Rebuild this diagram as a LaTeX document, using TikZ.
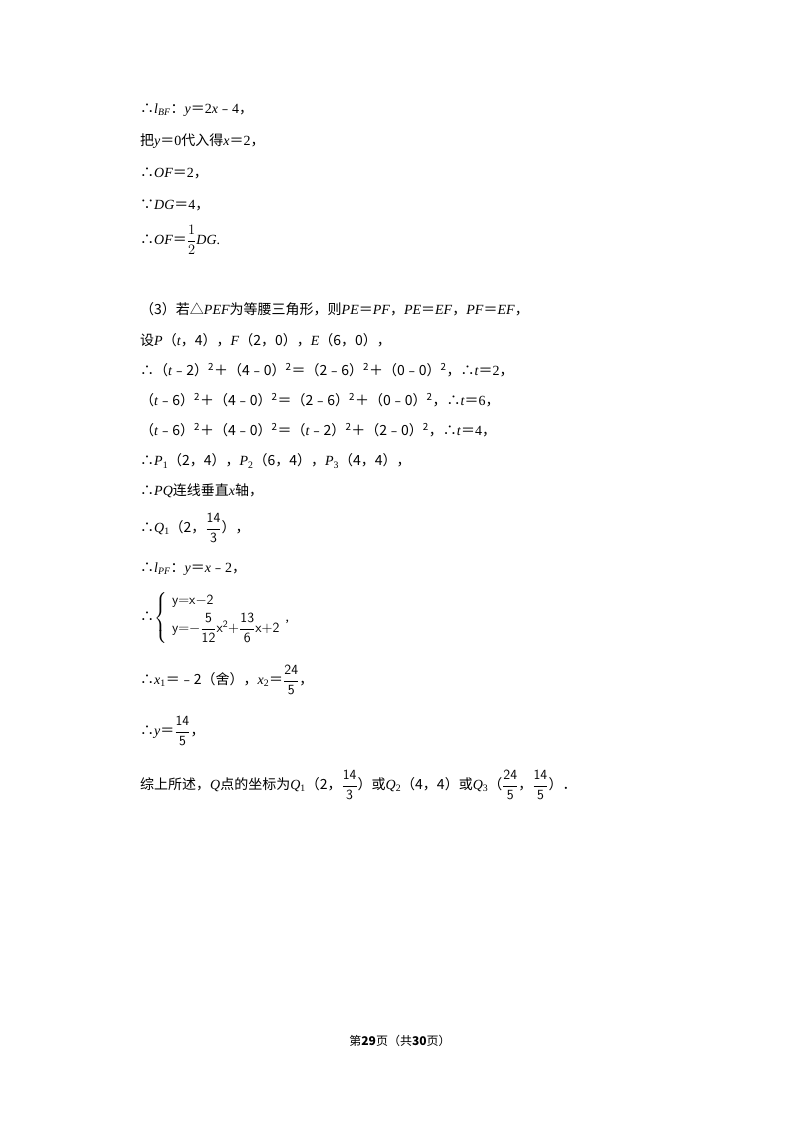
\documentclass[tikz,border=0pt]{standalone}
\usepackage{amsmath}
\usepackage{fontspec}
\setmainfont{Liberation Serif}
\newfontfamily\cjk{Noto Sans CJK SC}
\newcommand\C[1]{{\cjk #1}}
\newcommand\I[1]{\textit{#1}}
\begin{document}
\begin{tikzpicture}[x=1pt,y=-1pt,ln/.style={anchor=west,inner sep=0pt,font=\fontsize{14}{16}\selectfont}]
\useasboundingbox (0,0) rectangle (800,1132);
\node[ln] (l1) at (140,110) {\C{∴}\I{l}\textsubscript{\I{BF}}\C{：}\I{y}\C{＝}2\I{x}\C{﹣}4\C{，}};
\node[ln] (l2) at (140,141) {\C{把}\I{y}\C{＝}0\C{代入得}\I{x}\C{＝}2\C{，}};
\node[ln] (l3) at (140,173) {\C{∴}\I{OF}\C{＝}2\C{，}};
\node[ln] (l4) at (140,205) {\C{∵}\I{DG}\C{＝}4\C{，}};
\node[ln] (l5) at (140,240) {\C{∴}\I{OF}\C{＝}$\dfrac{1}{2}$\I{DG}.};
\node[ln] (l6) at (140,309) {\C{（3）若△}\I{PEF}\C{为等腰三角形，则}\I{PE}\C{＝}\I{PF}\C{，}\I{PE}\C{＝}\I{EF}\C{，}\I{PF}\C{＝}\I{EF}\C{，}};
\node[ln] (l7) at (140,340) {\C{设}\I{P}\C{（}\I{t}\C{，4），}\I{F}\C{（2，0），}\I{E}\C{（6，0），}};
\node[ln] (l8) at (140,370) {\C{∴（}\I{t}\C{﹣2）\textsuperscript{2}＋（4﹣0）\textsuperscript{2}＝（2﹣6）\textsuperscript{2}＋（0﹣0）\textsuperscript{2}，∴}\I{t}\C{＝}2\C{，}};
\node[ln] (l9) at (140,400) {\C{（}\I{t}\C{﹣6）\textsuperscript{2}＋（4﹣0）\textsuperscript{2}＝（2﹣6）\textsuperscript{2}＋（0﹣0）\textsuperscript{2}，∴}\I{t}\C{＝}6\C{，}};
\node[ln] (l10) at (140,430) {\C{（}\I{t}\C{﹣6）\textsuperscript{2}＋（4﹣0）\textsuperscript{2}＝（}\I{t}\C{﹣2）\textsuperscript{2}＋（2﹣0）\textsuperscript{2}，∴}\I{t}\C{＝}4\C{，}};
\node[ln] (l11) at (140,461) {\C{∴}\I{P}\textsubscript{1}\C{（2，4），}\I{P}\textsubscript{2}\C{（6，4），}\I{P}\textsubscript{3}\C{（4，4），}};
\node[ln] (l12) at (140,491) {\C{∴}\I{PQ}\C{连线垂直}\I{x}\C{轴，}};
\node[ln] (l13) at (140,528) {\C{∴}\I{Q}\textsubscript{1}\C{（2，}$\dfrac{\mathsf{14}}{\mathsf{3}}$\C{），}};
\node[ln] (l14) at (140,569) {\C{∴}\I{l}\textsubscript{\I{PF}}\C{：}\I{y}\C{＝}\I{x}\C{﹣}2\C{，}};
\node[ln] (l15) at (140,618) {\C{∴}$\left\{\begin{array}{l}\mathsf{y{=}x{-}2}\\[4pt] \mathsf{y{=}{-}}\dfrac{\mathsf{5}}{\mathsf{12}}\mathsf{x}^{\mathsf{2}}\mathsf{+}\dfrac{\mathsf{13}}{\mathsf{6}}\mathsf{x{+}2}\end{array}\right.$,};
\node[ln] (l16) at (140,680) {\C{∴}\I{x}\textsubscript{1}\C{＝﹣2（舍），}\I{x}\textsubscript{2}\C{＝}$\dfrac{\mathsf{24}}{\mathsf{5}}$\C{，}};
\node[ln] (l17) at (140,731) {\C{∴}\I{y}\C{＝}$\dfrac{\mathsf{14}}{\mathsf{5}}$\C{，}};
\node[ln] (l18) at (140,785) {\C{综上所述，}\I{Q}\C{点的坐标为}\I{Q}\textsubscript{1}\C{（2，}$\dfrac{\mathsf{14}}{\mathsf{3}}$\C{）或}\I{Q}\textsubscript{2}\C{（4，4）或}\I{Q}\textsubscript{3}\C{（}$\dfrac{\mathsf{24}}{\mathsf{5}}$\C{，}$\dfrac{\mathsf{14}}{\mathsf{5}}$\C{）．}};
\node[inner sep=0pt,font=\fontsize{12}{14}\selectfont] (ft) at (400,1041) {\C{第\textbf{29}页（共\textbf{30}页）}};
\end{tikzpicture}
\end{document}
